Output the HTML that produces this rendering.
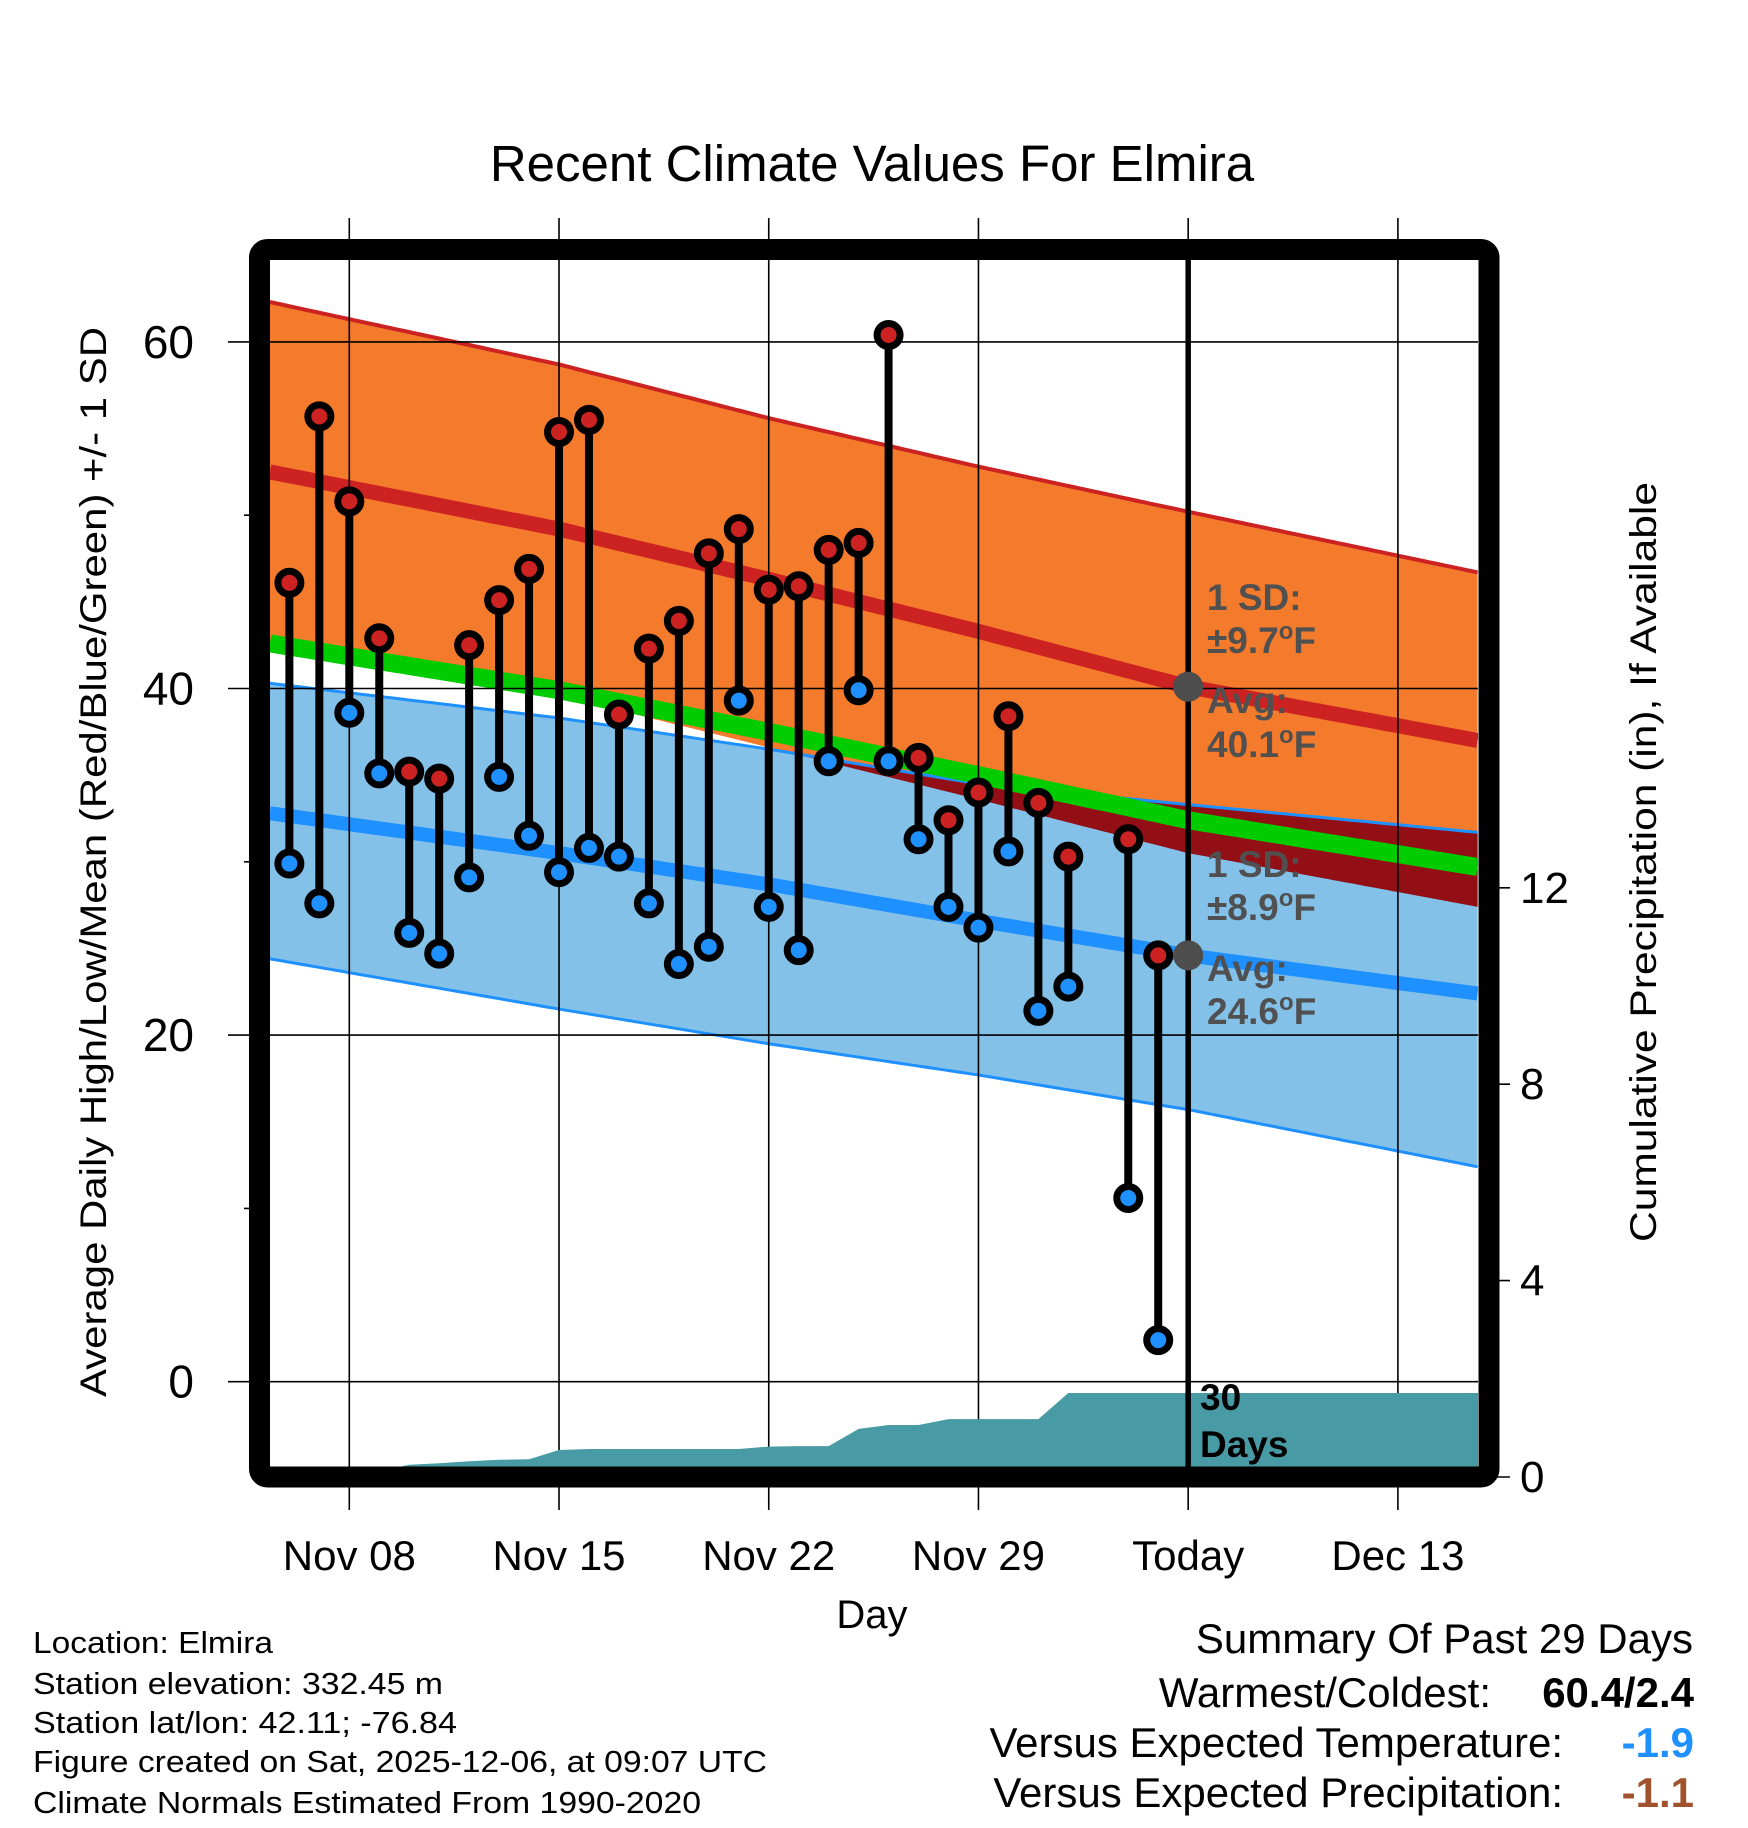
<!DOCTYPE html>
<html><head><meta charset="utf-8"><style>
html,body{margin:0;padding:0;background:#fff;}
svg{display:block;font-family:"Liberation Sans",sans-serif;}
</style></head><body>
<svg id="chart" width="1748" height="1828" viewBox="0 0 1748 1828" xmlns="http://www.w3.org/2000/svg">
<defs><clipPath id="plotclip"><rect x="270" y="260" width="1208" height="1207"/></clipPath></defs>
<text x="872" y="181" font-size="51" text-anchor="middle">Recent Climate Values For Elmira</text>
<g id="fills" clip-path="url(#plotclip)"></g>
<g id="grid"></g>
<g id="precip" clip-path="url(#plotclip)"></g>
<g id="marks"></g>
<rect x="259.5" y="249.5" width="1229.5" height="1227.5" rx="8" fill="none" stroke="#000" stroke-width="21"/>
<g id="overlay"></g>
<g id="axes"></g>
<text transform="translate(106,862) rotate(-90)" font-size="37" text-anchor="middle" textLength="1070" lengthAdjust="spacingAndGlyphs">Average Daily High/Low/Mean (Red/Blue/Green) +/- 1 SD</text>
<text transform="translate(1656,862) rotate(-90)" font-size="37" text-anchor="middle" textLength="760" lengthAdjust="spacingAndGlyphs">Cumulative Precipitation (in), If Available</text>
<text x="872" y="1628" font-size="40" text-anchor="middle">Day</text>
<g font-size="31">
<text x="33" y="1653" textLength="240" lengthAdjust="spacingAndGlyphs">Location: Elmira</text>
<text x="33" y="1694" textLength="410" lengthAdjust="spacingAndGlyphs">Station elevation: 332.45 m</text>
<text x="33" y="1733" textLength="424" lengthAdjust="spacingAndGlyphs">Station lat/lon: 42.11; -76.84</text>
<text x="33" y="1772" textLength="734" lengthAdjust="spacingAndGlyphs">Figure created on Sat, 2025-12-06, at 09:07 UTC</text>
<text x="33" y="1813" textLength="668" lengthAdjust="spacingAndGlyphs">Climate Normals Estimated From 1990-2020</text>
</g>
<g font-size="42" text-anchor="end">
<text x="1693" y="1653">Summary Of Past 29 Days</text>
<text x="1491" y="1707">Warmest/Coldest:</text>
<text x="1694" y="1707" font-weight="bold">60.4/2.4</text>
<text x="1563" y="1757">Versus Expected Temperature:</text>
<text x="1694" y="1757" font-weight="bold" fill="#1e90ff">-1.9</text>
<text x="1563" y="1807">Versus Expected Precipitation:</text>
<text x="1694" y="1807" font-weight="bold" fill="#a0522d">-1.1</text>
</g>
</svg>
<script>
// ---- data ----
const normDays = [-2.65, 7, 14, 21, 28, 37.66]; // days from Nov 08
const hiUpper = [62.3, 58.7, 55.6, 52.8, 50.2, 46.7];
const hiMean  = [52.5, 49.2, 46.3, 43.3, 40.1, 37.0];
const hiLower = [42.6, 39.6, 36.6, 33.6, 30.5, 27.4];
const loUpper = [40.3, 38.3, 36.5, 34.5, 33.3, 31.7];
const loMean  = [32.8, 30.5, 28.7, 26.6, 24.6, 22.4];
const loLower = [24.4, 21.5, 19.5, 17.7, 15.7, 12.4];
const avgMean = [42.6, 39.9, 37.5, 35.0, 32.4, 29.7];
const obsDays = [-2,-1,0,1,2,3,4,5,6,7,8,9,10,11,12,13,14,15,16,17,18,19,20,21,22,23,24,26,27];
const highs = [46.1,55.7,50.8,42.9,35.2,34.8,42.5,45.1,46.9,54.8,55.5,38.5,42.3,43.9,47.8,49.2,45.7,45.9,48.0,48.4,60.4,36.0,32.4,34.0,38.4,33.4,30.3,31.3,24.6];
const lows  = [29.9,27.6,38.6,35.1,25.9,24.7,29.1,34.9,31.5,29.4,30.8,30.3,27.6,24.1,25.1,39.3,27.4,24.9,35.8,39.9,35.8,31.3,27.4,26.2,30.6,21.4,22.8,10.6,2.4];
const precipDays = [-2,-1,0,1,2,3,4,5,6,7,8,9,10,11,12,13,14,15,16,17,18,19,20,21,22,23,24,25,26,27,28];
const precipCum  = [0,0,0,0.12,0.25,0.28,0.32,0.35,0.36,0.55,0.57,0.57,0.57,0.57,0.57,0.57,0.62,0.63,0.63,0.98,1.06,1.06,1.18,1.18,1.18,1.18,1.71,1.71,1.71,1.71,1.71];
const xTickDays = [0,7,14,21,28,35];
const xTickLabels = ["Nov 08","Nov 15","Nov 22","Nov 29","Today","Dec 13"];
const yTicks = [0,20,40,60];
const yMinor = [10,30,50];
const y2Ticks = [0,4,8,12];
const todayDay = 28;
const todayHiAvg = 40.1, todayLoAvg = 24.6;
const hiSD = "9.7", loSD = "8.9";

// ---- scales ----
const X0 = 349.3, DX = 29.96;
const xs = d => X0 + d*DX;
const ys = t => 1381.7 - t*17.33;
const yp = p => 1477 - p*49.1;
const NS = "http://www.w3.org/2000/svg";
function mk(tag, attrs, parent){const e=document.createElementNS(NS,tag);for(const k in attrs)e.setAttribute(k,attrs[k]);parent.appendChild(e);return e;}
function interp(arr, d){
  for(let i=0;i<normDays.length-1;i++){
    if(d<=normDays[i+1]||i===normDays.length-2){const t=(d-normDays[i])/(normDays[i+1]-normDays[i]);return arr[i]+t*(arr[i+1]-arr[i]);}
  }
}
const samples=[];for(let i=0;i<=200;i++)samples.push(normDays[0]+(normDays[normDays.length-1]-normDays[0])*i/200);
function bandPath(top,bot){
  let s=samples.map((d,i)=>(i?'L':'M')+xs(d).toFixed(1)+' '+ys(top(d)).toFixed(1)).join(' ');
  s+=' '+samples.slice().reverse().map(d=>'L'+xs(d).toFixed(1)+' '+ys(bot(d)).toFixed(1)).join(' ');
  return s+' Z';
}
function linePath(f){return samples.map((d,i)=>(i?'L':'M')+xs(d).toFixed(1)+' '+ys(f(d)).toFixed(1)).join(' ');}

const fills=document.getElementById('fills');
let e;
e=mk('path',{d:bandPath(d=>interp(hiUpper,d),d=>interp(hiLower,d)),fill:'#f47a2c'},fills);


e=mk('path',{d:bandPath(d=>interp(loUpper,d),d=>interp(loLower,d)),fill:'#84c1e8'},fills);


e=mk('path',{d:bandPath(d=>interp(loUpper,d),d=>Math.min(interp(loUpper,d),interp(hiLower,d))),fill:'#930f16'},fills);


e=mk('path',{d:linePath(d=>interp(hiUpper,d)),fill:'none',stroke:'#cc2222','stroke-width':4},fills);


e=mk('path',{d:linePath(d=>interp(loUpper,d)),fill:'none',stroke:'#1e90ff','stroke-width':3},fills);


e=mk('path',{d:linePath(d=>interp(loLower,d)),fill:'none',stroke:'#1e90ff','stroke-width':3},fills);


e=mk('path',{d:linePath(d=>interp(hiMean,d)),fill:'none',stroke:'#cc2222','stroke-width':15},fills);


e=mk('path',{d:linePath(d=>interp(loMean,d)),fill:'none',stroke:'#1e90ff','stroke-width':14},fills);


e=mk('path',{d:linePath(d=>interp(avgMean,d)),fill:'none',stroke:'#00cc00','stroke-width':18},fills);



// grid
const grid=document.getElementById('grid');
xTickDays.forEach(d=>{
  const g=mk('line',{x1:xs(d),x2:xs(d),y1:218,y2:1510,stroke:'#000','stroke-width':1.6},grid);
  
  
});
yTicks.forEach(t=>{
  const g=mk('line',{x1:228,x2:1478,y1:ys(t),y2:ys(t),stroke:'#000','stroke-width':1.6},grid);
  
  
});
yMinor.forEach(t=>{
  const g=mk('line',{x1:244,x2:262,y1:ys(t),y2:ys(t),stroke:'#000','stroke-width':1.6},grid);
  
  
});

// precip area
const pr=document.getElementById('precip');
let pd='M'+xs(precipDays[0])+' '+yp(0);
precipDays.forEach((d,i)=>{pd+=' L'+xs(d).toFixed(1)+' '+yp(precipCum[i]).toFixed(1);});
pd+=' L1480 '+yp(precipCum[precipCum.length-1]).toFixed(1)+' L1480 '+yp(0)+' Z';
e=mk('path',{d:pd,fill:'#489ba4'},pr);



// marks
const marks=document.getElementById('marks');
obsDays.forEach((d,i)=>{
  const x=xs(d);
  const s=mk('line',{x1:x,x2:x,y1:ys(highs[i]),y2:ys(lows[i]),stroke:'#000','stroke-width':8},marks);
  
  
});
obsDays.forEach((d,i)=>{
  const x=xs(d);
  const h=mk('circle',{cx:x,cy:ys(highs[i]),r:11.5,fill:'#cc2222',stroke:'#000','stroke-width':7},marks);
  
  
  const l=mk('circle',{cx:x,cy:ys(lows[i]),r:11.5,fill:'#1e90ff',stroke:'#000','stroke-width':7},marks);
  
  
});

// today overlay
const ov=document.getElementById('overlay');
e=mk('line',{x1:xs(todayDay),x2:xs(todayDay),y1:255,y2:1467,stroke:'#000','stroke-width':5.5},ov);


e=mk('circle',{cx:xs(todayDay),cy:ys(todayHiAvg),r:15,fill:'#4d4d4d'},ov);


e=mk('circle',{cx:xs(todayDay),cy:ys(todayLoAvg),r:15,fill:'#4d4d4d'},ov);


function ann(txt,y,name){
  const t=mk('text',{x:1207,y:y,'font-size':37,'font-weight':'bold',fill:'#505050'},ov);
  t.innerHTML=txt;
  
  
}
ann('1 SD:',610,'high-sd-label');
ann('±'+hiSD+'<tspan font-size="24" dy="-14">o</tspan><tspan dy="14">F</tspan>',653,'high-sd-value');
ann('Avg:',713,'high-avg-label');
ann(todayHiAvg.toFixed(1)+'<tspan font-size="24" dy="-14">o</tspan><tspan dy="14">F</tspan>',757,'high-avg-value');
ann('1 SD:',877,'low-sd-label');
ann('±'+loSD+'<tspan font-size="24" dy="-14">o</tspan><tspan dy="14">F</tspan>',920,'low-sd-value');
ann('Avg:',981,'low-avg-label');
ann(todayLoAvg.toFixed(1)+'<tspan font-size="24" dy="-14">o</tspan><tspan dy="14">F</tspan>',1024,'low-avg-value');
e=mk('text',{x:1200,y:1410,'font-size':37,'font-weight':'bold',fill:'#000'},ov);
e.textContent='30';


e=mk('text',{x:1200,y:1457,'font-size':37,'font-weight':'bold',fill:'#000'},ov);
e.textContent='Days';



// axes labels
const ax=document.getElementById('axes');
yTicks.forEach(t=>{
  const l=mk('text',{x:194,y:ys(t)+16,'font-size':46,'text-anchor':'end'},ax);
  l.textContent=t;
  
  
});
y2Ticks.forEach(p=>{
  const k=mk('line',{x1:1489,x2:1510,y1:yp(p),y2:yp(p),stroke:'#000','stroke-width':1.6},ax);
  
  
  const l=mk('text',{x:1520,y:yp(p)+15,'font-size':44},ax);
  l.textContent=p;
  
  
});
xTickDays.forEach((d,i)=>{
  const l=mk('text',{x:xs(d),y:1570,'font-size':42,'text-anchor':'middle'},ax);
  l.textContent=xTickLabels[i];
  
  
});
</script>
</body></html>
